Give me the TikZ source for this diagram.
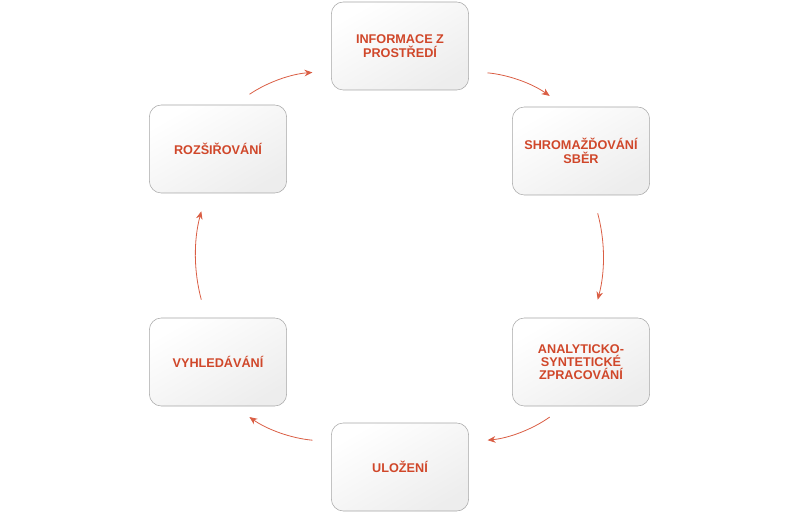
\documentclass[tikz,border=0pt]{standalone}
\usepackage{fontspec}
\setmainfont{Liberation Sans}
\usetikzlibrary{arrows.meta, positioning}
\definecolor{cyklred}{HTML}{D0472A}
\definecolor{cyklarrow}{HTML}{DA5E44}

\begin{document}
\begin{tikzpicture}[
            x = 0.75pt, y = -0.75pt, % pixel units
            > = {Stealth[length=6pt, width=5pt]}, % arrow head style
            box/.style = {
                draw = gray!70,
                rounded corners = 9pt,
                minimum width = 103pt,
                minimum height = 66pt,
                align = center,
                font = \bfseries\fontsize{9.5}{10}\selectfont,
                text = cyklred,
                shading = axis,
                top color = white,
                bottom color = gray!14,
                shading angle = 30
            },
            arr/.style = {
                ->, cyklarrow, semithick,
                shorten > = 14pt, shorten < = 14pt
            }
        ]
        \useasboundingbox (0,0) rectangle (800,513);
        \node[box] (inf) at (400,46) {INFORMACE Z\\PROSTŘEDÍ};
        \node[box] (sbr) at (581,151) {SHROMAŽĎOVÁNÍ\\SBĚR};
        \node[box] (ana) at (581,362) {ANALYTICKO-\\SYNTETICKÉ\\ZPRACOVÁNÍ};
        \node[box] (ulo) at (400,467) {ULOŽENÍ};
        \node[box] (vyh) at (218,362) {VYHLEDÁVÁNÍ};
        \node[box] (roz) at (218,149) {ROZŠIŘOVÁNÍ};

        \draw[arr] (inf.-20) to[bend left=15] (sbr.110);
        \draw[arr] (sbr.-75) to[bend left=15] (ana.75);
        \draw[arr] (ana.-110) to[bend left=15] (ulo.20);
        \draw[arr] (ulo.160) to[bend left=15] (vyh.-70);
        \draw[arr] (vyh.105) to[bend left=15] (roz.-105);
        \draw[arr] (roz.70) to[bend left=15] (inf.200);
    \end{tikzpicture}
\end{document}
